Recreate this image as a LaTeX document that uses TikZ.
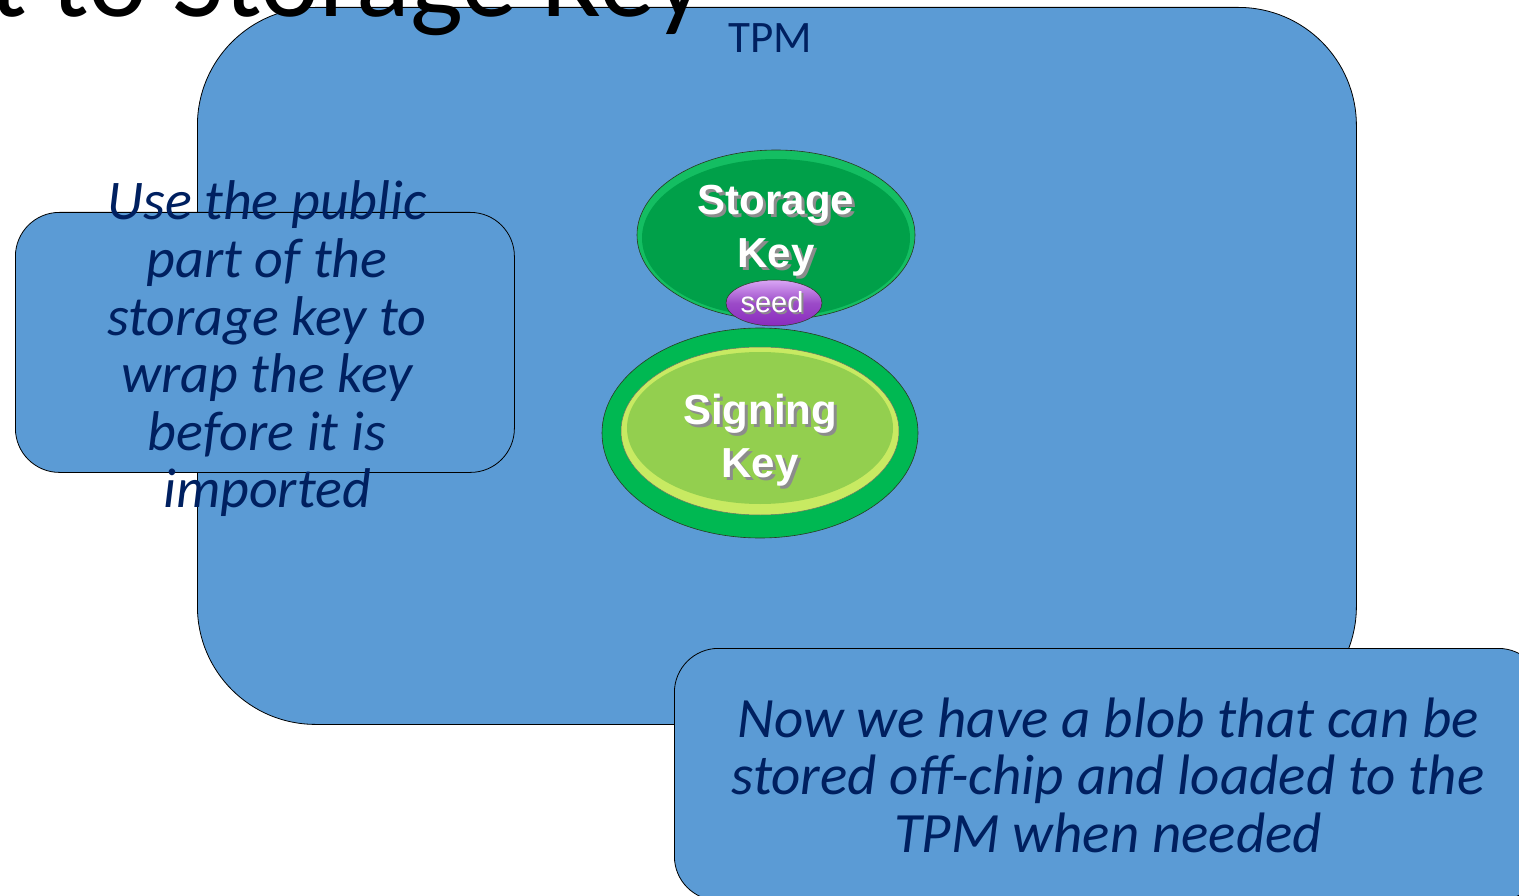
\documentclass[tikz,border=0pt]{standalone}
\usepackage{fontspec}
\setmainfont{Carlito}
\newfontfamily\arialfont{Liberation Sans}
\usetikzlibrary{shapes.geometric}
\definecolor{tpmblue}{HTML}{5B9BD5}
\definecolor{navy}{HTML}{002060}
\definecolor{skrim}{HTML}{14BE62}
\definecolor{skbody}{HTML}{00A049}
\definecolor{sgring}{HTML}{00B852}
\definecolor{sgrim}{HTML}{C8EA62}
\definecolor{sgbody}{HTML}{93CF4F}
\definecolor{seedtop}{HTML}{D9A6F5}
\definecolor{seedbot}{HTML}{8A2BBE}
\definecolor{edge}{HTML}{2A3A20}
\tikzset{
  panel/.style={draw=black, line width=0.8pt, fill=tpmblue, inner sep=0pt, anchor=north west},
  note/.style={text=navy, align=center, inner sep=0pt, font=\itshape\fontsize{56}{57.6}\selectfont},
  oval/.style={ellipse, inner sep=0pt},
  keytext/.style={text=white, align=center, inner sep=0pt, font=\arialfont\bfseries\fontsize{42}{53}\selectfont},
  keyshadow/.style={text=black!45, align=center, inner sep=0pt, font=\arialfont\bfseries\fontsize{42}{53}\selectfont},
}
\begin{document}
\begin{tikzpicture}[x=1pt,y=-1pt]
\useasboundingbox (0,0) rectangle (1519,896);
\clip (0,0) rectangle (1519,896);
% TPM chip
\node[panel, rounded corners=118pt, minimum width=1159pt, minimum height=717pt] (tpm) at (197,7) {};
% title (cut off at top)
\node[anchor=base east, inner sep=0pt, font=\fontsize{112}{112}\selectfont] (title) at (705,17) {t to Storage Key};
\node[anchor=base, inner sep=0pt, text=navy, font=\fontsize{45}{45}\selectfont] (tpmlabel) at (770,53) {TPM};
% left note
\node[panel, rounded corners=44pt, minimum width=499pt, minimum height=260pt] (leftbox) at (15,212) {};
\node[note] (lefttext) at (267,349) {Use the public\\part of the\\storage key to\\wrap the key\\before it is\\imported};
% storage key
\node[oval, minimum width=278pt, minimum height=170pt, fill=skrim, draw=edge, line width=0.6pt] (sk) at (776,235) {};
\node[oval, minimum width=268pt, minimum height=158pt, fill=skbody] (skin) at (776,238) {};
\node[keyshadow] at (779,233.5) {Storage\\Key};
\node[keytext] (sktext) at (776,230.5) {Storage\\Key};
% signing key
\node[oval, minimum width=316pt, minimum height=210pt, fill=sgring, draw=edge, line width=0.6pt] (sg) at (760,433) {};
\node[oval, minimum width=278pt, minimum height=168pt, fill=sgrim, draw=edge!70, line width=0.5pt] (sgmid) at (760,431) {};
\node[oval, minimum width=266pt, minimum height=152pt, fill=sgbody] (sgin) at (760,428) {};
\node[keyshadow] at (763,443) {Signing\\Key};
\node[keytext] (sgtext) at (760,440) {Signing\\Key};
% seed
\node[oval, minimum width=96pt, minimum height=46pt, top color=seedtop, bottom color=seedbot, middle color=seedbot!85!white, draw=edge, line width=0.5pt] (seed) at (774,303) {};
\node[text=black!45, inner sep=0pt, font=\arialfont\fontsize{29}{29}\selectfont] at (774,304.5) {seed};
\node[text=white, inner sep=0pt, font=\arialfont\fontsize{29}{29}\selectfont] (seedtext) at (772,302.5) {seed};
% bottom note
\node[panel, rounded corners=44pt, minimum width=868pt, minimum height=252pt] (bottombox) at (674,648) {};
\node[note, font=\itshape\fontsize{57}{57.5}\selectfont] (bottomtext) at (1108,775) {Now we have a blob that can be\\stored off-chip and loaded to the\\TPM when needed};
\end{tikzpicture}
\end{document}
